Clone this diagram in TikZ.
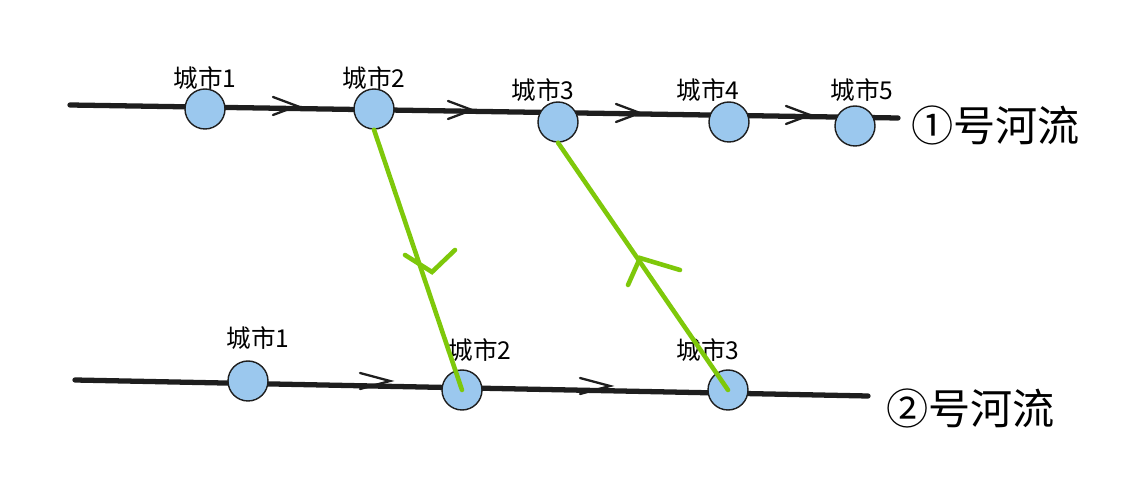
\documentclass[tikz,border=0pt]{standalone}
\usepackage{fontspec}
\setmainfont{Liberation Sans}
\newfontfamily\cjk{Noto Sans CJK SC}
\usetikzlibrary{arrows.meta}
\definecolor{cityblue}{RGB}{155,200,238}
\definecolor{linkgreen}{RGB}{126,200,10}
\definecolor{ink}{RGB}{30,30,30}

\tikzset{
  city/.style={circle, draw=ink, line width=0.8pt, fill=cityblue, minimum size=0.8cm, inner sep=0pt},
  cityname/.style={font=\cjk\fontsize{14}{14}\selectfont, text=black},
  river/.style={ink, line width=3pt, line cap=round},
  link/.style={linkgreen, line width=2.6pt, line cap=round},
  chev/.style={ink, line width=1.3pt, line cap=round},
  rivername/.style={font=\cjk\fontsize{24}{24}\selectfont, anchor=west},
}

\begin{document}
\begin{tikzpicture}[x=0.02cm, y=-0.02cm]
\useasboundingbox (0,0) rectangle (1144,486);

% river 1
\coordinate (r1a) at (70,105);
\coordinate (r1b) at (898,118);
\draw[river] (r1a) -- (r1b);
\foreach \x/\y in {285/106, 460/110, 628/113, 798/115}
  \draw[chev] (\x-12,\y-9) -- (\x+12,\y) -- (\x-12,\y+9);

\node[city] (a1) at (205,109) {};
\node[city] (a2) at (374,109) {};
\node[city] (a3) at (558,122) {};
\node[city] (a4) at (729,122) {};
\node[city] (a5) at (855,126) {};
\node[cityname] at (205,78) {城市1};
\node[cityname] at (374,78) {城市2};
\node[cityname] at (543,90) {城市3};
\node[cityname] at (708,90) {城市4};
\node[cityname] at (862,90) {城市5};
\node[rivername] (n1) at (905,125) {①号河流};

% river 2
\coordinate (r2a) at (75,380);
\coordinate (r2b) at (868,396);
\draw[river] (r2a) -- (r2b);
\foreach \x/\y in {375/381, 595/386}
  \draw[chev] (\x-15,\y-8) -- (\x+15,\y) -- (\x-15,\y+8);

\node[city] (b1) at (248,381) {};
\node[city] (b2) at (462,390) {};
\node[city] (b3) at (728,390) {};
\node[cityname] at (258,338) {城市1};
\node[cityname] at (480,350) {城市2};
\node[cityname] at (708,350) {城市3};
\node[rivername] (n2) at (880,408) {②号河流};

% transfers
\draw[link] (a2.south) -- (b2.center);
\draw[link] (b3.center) -- (a3.south);
\draw[link] (405,255) -- (432,272) -- (455,250);
\draw[link] (628,285) -- (640,258) -- (680,270);
\end{tikzpicture}
\end{document}
